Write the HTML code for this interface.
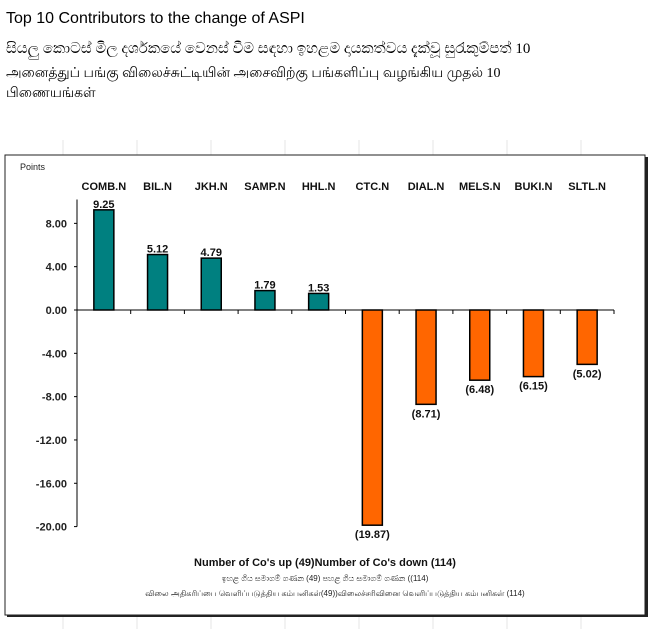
<!DOCTYPE html>
<html><head><meta charset="utf-8"><style>
body{margin:0;width:650px;height:629px;background:#fff;overflow:hidden;font-family:"Liberation Sans",sans-serif;position:relative}
.t{position:absolute;left:6px;color:#000;white-space:nowrap}
</style></head><body>
<div class="t" style="top:10px;font-size:16px">Top 10 Contributors to the change of ASPI</div>
<div class="t" style="top:40px;font-size:15px;font-family:'Liberation Serif',serif">සියලු කොටස් මිල දර්ශකයේ වෙනස් වීම සඳහා ඉහළම දායකත්වය දැක්වූ සුරැකුම්පත් 10</div>
<div class="t" style="top:66px;font-size:14px;font-family:'Liberation Serif',serif">அனைத்துப் பங்கு விலைச்சுட்டியின் அசைவிற்கு பங்களிப்பு வழங்கிய முதல் 10</div>
<div class="t" style="top:86px;font-size:14px;font-family:'Liberation Serif',serif">பிணையங்கள்</div>
<svg id="c" width="650" height="629" style="position:absolute;left:0;top:0"></svg>
<script>
const cats=["COMB.N","BIL.N","JKH.N","SAMP.N","HHL.N","CTC.N","DIAL.N","MELS.N","BUKI.N","SLTL.N"];
const vals=[9.25,5.12,4.79,1.79,1.53,-19.87,-8.71,-6.48,-6.15,-5.02];
const labels=["9.25","5.12","4.79","1.79","1.53","(19.87)","(8.71)","(6.48)","(6.15)","(5.02)"];
const ticks=[8,4,0,-4,-8,-12,-16,-20];
const NS="http://www.w3.org/2000/svg",svg=document.getElementById('c');
function mk(t,a,p){const e=document.createElementNS(NS,t);for(const k in a)e.setAttribute(k,a[k]);(p||svg).appendChild(e);return e;}
const x0=77,x1=614,y=v=>310-v*10.83,bw=(x1-x0)/cats.length,xc=i=>x0+bw*(i+0.5);
// background gridlines
for(let gx=63;gx<650;gx+=74){const l=mk('line',{x1:gx,y1:140,x2:gx,y2:629,stroke:'#e4e4e4'});}
const sh=mk('rect',{x:7,y:157,width:641,height:460,fill:'#222'});
const fr=mk('rect',{x:5,y:155,width:640,height:460,fill:'#fff',stroke:'#222','stroke-width':1});
const pt=mk('text',{x:20,y:170,'font-size':9,fill:'#222'});pt.textContent='Points';
const ya=mk('line',{x1:x0,y1:y(10.2),x2:x0,y2:y(-20),stroke:'#000'});
ticks.forEach(t=>{const l=mk('line',{x1:x0-3,y1:y(t),x2:x0,y2:y(t),stroke:'#000'});
const tx=mk('text',{x:x0-10,y:y(t)+4,'font-size':11,'font-weight':'bold','text-anchor':'end',fill:'#222'});tx.textContent=t.toFixed(2);});
const xa=mk('line',{x1:x0,y1:y(0),x2:x1,y2:y(0),stroke:'#000'});
for(let i=0;i<=cats.length;i++){const l=mk('line',{x1:x0+bw*i,y1:y(0),x2:x0+bw*i,y2:y(0)+4,stroke:'#000'});}
cats.forEach((c,i)=>{const v=vals[i];
const ct=mk('text',{x:xc(i),y:190,'font-size':11,'font-weight':'bold','text-anchor':'middle',fill:'#111'});ct.textContent=c;
const r=mk('rect',{x:xc(i)-10,y:Math.min(y(v),y(0)),width:20,height:Math.abs(y(v)-y(0)),fill:v>=0?'#008080':'#ff6600',stroke:'#000','stroke-width':1.5});
const vl=mk('text',{x:xc(i),y:v>=0?y(v)-2:y(v)+13,'font-size':11,'font-weight':'bold','text-anchor':'middle',fill:'#111'});vl.textContent=labels[i];});
const f1=mk('text',{x:325,y:566,'font-size':11,'font-weight':'bold','text-anchor':'middle',fill:'#111'});f1.textContent="Number of Co's up (49)Number of Co's down  (114)";
const f2=mk('text',{x:325,y:581,'font-size':8,'text-anchor':'middle',fill:'#222'});f2.textContent="ඉහළ ගිය සමාගම් ගණන (49) පහළ ගිය සමාගම් ගණන ((114)";
const f3=mk('text',{x:335,y:596,'font-size':8,'text-anchor':'middle',fill:'#222'});f3.textContent="விலை அதிகரிப்பை வெளிப்படுத்திய கம்பனிகள்(49))விலைச்சரிவினை வெளிப்படுத்திய கம்பனிகள் (114)";
</script>
</body></html>
